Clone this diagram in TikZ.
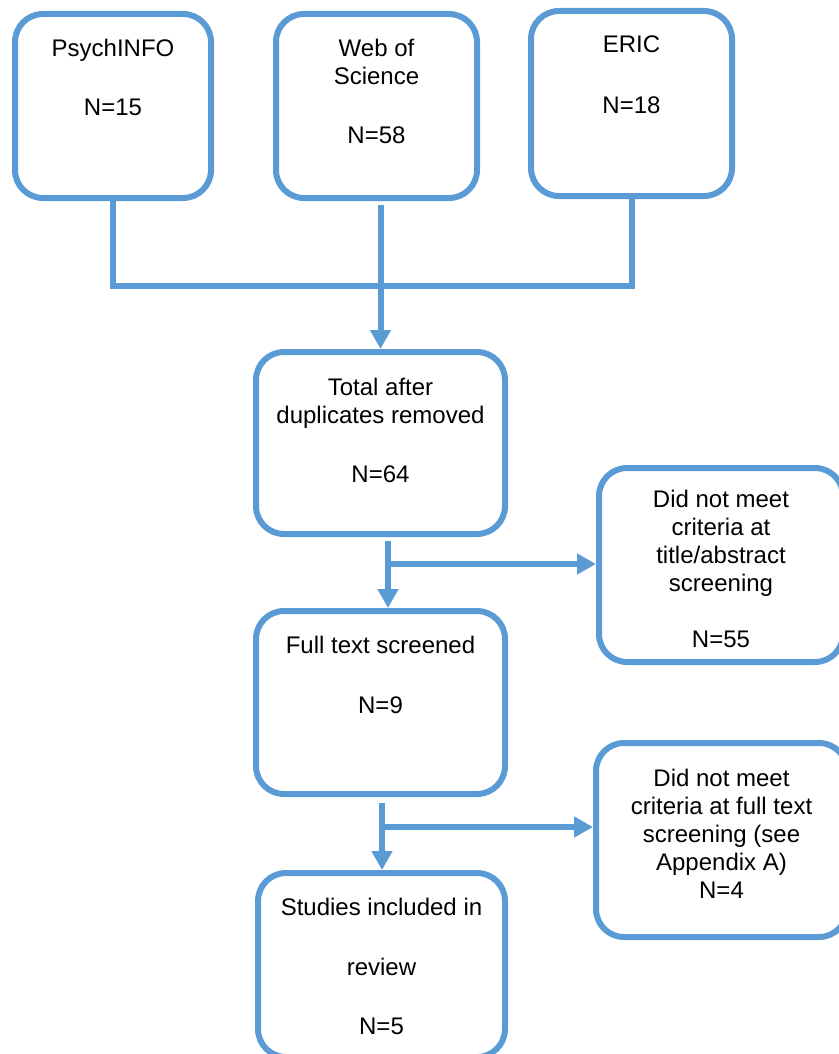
\documentclass[tikz,border=0pt]{standalone}
\usepackage{fontspec}
\setmainfont{Liberation Sans}
\usetikzlibrary{arrows.meta,positioning}
\definecolor{flowblue}{HTML}{5B9BD5}
\tikzset{
  box/.style={draw=flowblue, line width=6pt, rounded corners=28pt, inner sep=0pt},
  boxtext/.style={anchor=north, align=center, inner sep=0pt, font=\fontsize{24}{28}\selectfont},
  link/.style={draw=flowblue, line width=6pt},
  arr/.style={link, -{Triangle[length=19pt,width=20pt]}}
}
\begin{document}
\begin{tikzpicture}[x=1pt,y=-1pt]
  \useasboundingbox (0,0) rectangle (838,1054);
  % databases
  \node[box, minimum width=196pt, minimum height=184pt] (psych) at (113,106) {};
  \node[box, minimum width=201pt, minimum height=184pt] (wos) at (376.5,106) {};
  \node[box, minimum width=201pt, minimum height=185pt] (eric) at (631.5,103.5) {};
  \node[boxtext, below=28pt of psych.north] (psychtxt) {PsychINFO\\[31pt]N=15};
  \node[boxtext, below=28pt of wos.north] (wostxt) {Web of\\Science\\[31pt]N=58};
  \node[boxtext, below=28pt of eric.north] (erictxt) {ERIC\\[33pt]N=18};
  % screening steps
  \node[box, minimum width=249pt, minimum height=182pt] (total) at (380.5,443) {};
  \node[box, minimum width=249pt, minimum height=183pt] (full) at (380.5,702.5) {};
  \node[box, minimum width=247pt, minimum height=184pt] (studies) at (381.5,965) {};
  \node[boxtext, below=29pt of total.north] (totaltxt) {Total after\\duplicates removed\\[31pt]N=64};
  \node[boxtext, below=28pt of full.north] (fulltxt) {Full text screened\\[32pt]N=9};
  \node[boxtext, below=28pt of studies.north] (studiestxt) {Studies included in\\[32pt]review\\[31pt]N=5};
  % exclusions
  \node[box, minimum width=244pt, minimum height=194pt] (excl1) at (721,565) {};
  \node[box, minimum width=251pt, minimum height=194pt] (excl2) at (721.5,840) {};
  \node[boxtext, below=25pt of excl1.north] (excl1txt) {Did not meet\\criteria at\\title/abstract\\screening\\[28pt]N=55};
  \node[boxtext, below=29pt of excl2.north] (excl2txt) {Did not meet\\criteria at full text\\screening (see\\Appendix A)\\N=4};
  % connectors
  \coordinate (merge) at (0,286);
  \coordinate (fork1) at (388,564);
  \coordinate (fork2) at (382,827);
  \draw[link] (psych.south) -- (psych.south |- merge) -| (eric.south);
  \draw[arr, shorten <=4pt] (wos.south -| total.north) -- (total.north);
  \draw[arr, shorten <=4pt] (fork1 |- total.south) -- (fork1 |- full.north);
  \draw[arr] (fork1) -- (fork1 -| excl1.west);
  \draw[arr, shorten <=6pt] (fork2 |- full.south) -- (fork2 |- studies.north);
  \draw[arr] (fork2) -- (fork2 -| excl2.west);
\end{tikzpicture}
\end{document}
